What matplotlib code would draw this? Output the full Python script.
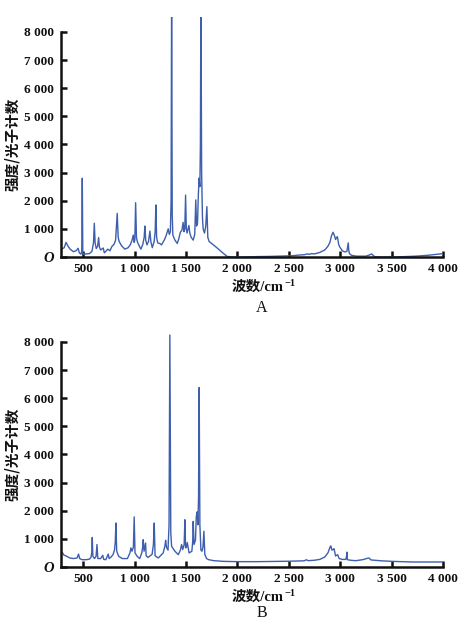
import matplotlib
matplotlib.use("Agg")
import matplotlib.pyplot as plt
import numpy as np

# ---------------- data ----------------
wn_a = [300, 315, 333, 350, 372, 405, 430, 451, 462, 478, 486, 491, 496, 505, 530, 560, 585,
        600, 608, 616, 627, 640, 650, 658, 670, 695, 705, 720, 740, 760, 780, 800, 815, 831,
        840, 850, 873, 905, 937, 960, 975, 987, 995, 1002, 1010, 1018, 1026, 1040, 1061, 1080,
        1093, 1100, 1108, 1120, 1135, 1149, 1158, 1172, 1190, 1200, 1207, 1214, 1225, 1245,
        1262, 1280, 1295, 1310, 1327, 1338, 1348, 1355, 1360, 1366, 1372, 1392, 1415, 1430,
        1445, 1460, 1472, 1480, 1488, 1496, 1503, 1510, 1520, 1528, 1537, 1550, 1570, 1585,
        1595, 1603, 1612, 1620, 1627, 1635, 1640, 1645, 1652, 1660, 1667, 1680, 1692, 1703,
        1712, 1725, 1760, 1800, 1850, 1900, 1950, 2000, 2050, 2100, 2150, 2200, 2300, 2400,
        2500, 2550, 2600, 2650, 2680, 2700, 2720, 2750, 2800, 2850, 2880, 2900, 2915, 2930,
        2945, 2955, 2965, 2973, 2985, 2995, 3020, 3044, 3065, 3072, 3078, 3083, 3090, 3110,
        3158, 3200, 3250, 3290, 3305, 3320, 3335, 3400, 3510, 3600, 3736, 3850, 3950, 4000]
int_a = [300, 330, 520, 400, 280, 190, 220, 310, 150, 100, 200, 2800, 150, 90, 110, 120, 200,
         500, 1200, 500, 300, 380, 690, 350, 250, 320, 150, 200, 280, 220, 380, 450, 600, 1550,
         700, 550, 400, 280, 330, 450, 600, 780, 520, 600, 1930, 700, 550, 430, 280, 450,
         700, 1100, 600, 430, 550, 920, 550, 330, 550, 900, 1850, 700, 500, 480,
         430, 550, 650, 800, 1000, 800, 900, 2000, 9500, 1500, 780, 600, 480, 650,
         880, 950, 1230, 900, 1000, 2200, 1000, 850, 1000, 1120, 850, 700, 600, 800,
         2030, 1100, 1200, 2200, 2800, 2500, 4000, 9500, 3000, 1400, 1000, 850, 1100, 1790,
         700, 550, 450, 330, 170, 20, 0, 0, 0, 5, 10, 15, 20, 30,
         40, 50, 70, 80, 110, 95, 120, 110, 160, 250, 380, 520, 750, 880,
         750, 620, 700, 720, 450, 360, 220, 180, 200, 350, 500, 250, 120, 60,
         30, 30, 30, 80, 110, 60, 10, 0, 0, 10, 30, 60, 100, 120]

wn_b = [300, 310, 339, 370, 405, 440, 455, 465, 490, 530, 560, 575, 583, 588, 594, 610, 625,
        634, 642, 670, 690, 700, 720, 744, 752, 770, 790, 805, 812, 818, 826, 845, 880, 930,
        955, 964, 975, 988, 996, 1004, 1025, 1049, 1070, 1078, 1084, 1092, 1107, 1112, 1130,
        1170, 1183, 1191, 1199, 1230, 1278, 1295, 1302, 1310, 1325, 1335, 1343, 1352, 1360,
        1392, 1425, 1445, 1457, 1468, 1482, 1489, 1496, 1505, 1512, 1520, 1530, 1557, 1565,
        1570, 1578, 1592, 1600, 1609, 1616, 1622, 1628, 1635, 1645, 1655, 1665, 1674, 1683,
        1700, 1721, 1770, 1867, 1997, 2100, 2200, 2320, 2400, 2500, 2600, 2650, 2672, 2685,
        2750, 2801, 2850, 2882, 2900, 2908, 2920, 2930, 2940, 2955, 2975, 2990, 3020, 3055,
        3062, 3066, 3070, 3100, 3150, 3220, 3265, 3280, 3300, 3340, 3400, 3510, 3700, 4000]
int_b = [500, 430, 380, 320, 300, 320, 460, 300, 260, 260, 280, 340, 500, 1050, 380, 300, 380,
         800, 300, 300, 415, 270, 260, 460, 300, 350, 440, 615, 900, 1565, 560, 380, 300, 300,
         500, 680, 560, 700, 1780, 500, 380, 300, 500, 700, 970, 560, 850, 400, 340,
         450, 800, 1565, 400, 320, 500, 750, 950, 700, 600, 1500, 8245, 1200, 735,
         560, 440, 600, 800, 620, 800, 1680, 680, 720, 870, 700, 500, 560, 900,
         1620, 800, 950, 1800, 1960, 1500, 2500, 6380, 1500, 600, 560, 700, 1270, 450,
         300, 260, 225, 200, 190, 190, 190, 195, 200, 205, 215, 220, 260, 225,
         240, 270, 355, 510, 700, 750, 600, 620, 650, 390, 440, 300, 270, 270,
         400, 530, 260, 240, 225, 260, 310, 320, 250, 237, 220, 200, 178, 178]

xticks = [500, 1000, 1500, 2000, 2500, 3000, 3500, 4000]
xtick_labels = ["500", "1 000", "1 500", "2 000", "2 500", "3 000", "3 500", "4 000"]
yticks = [0, 1000, 2000, 3000, 4000, 5000, 6000, 7000, 8000]
ytick_labels = ["O", "1 000", "2 000", "3 000", "4 000", "5 000", "6 000", "7 000", "8 000"]
panel_labels = ["A", "B"]
ylabel = "强度/光子计数"
xlabel = "波数/cm"

# ---------------- style ----------------
line_color = "#3d5fae"
serif = ["Liberation Serif", "DejaVu Serif"]
cjk = ["Noto Sans CJK SC", "DejaVu Sans"]
mixed = ["Liberation Serif", "Noto Sans CJK SC", "DejaVu Serif"]

fig = plt.figure(figsize=(4.70, 6.24), dpi=100)
W, H = 470, 624
left_px, right_px = 61, 443
panels = [(17, 257), (327, 567)]
label_y_px = [(287, 308), (597, 613)]
xmin, xmax = 284, 4000
ymin, ymax = 0, 8530

for (top_px, bot_px), (xl_px, pl_px), wn, inten, plab in zip(
        panels, label_y_px, [wn_a, wn_b], [int_a, int_b], panel_labels):
    ax = fig.add_axes([left_px / W, 1 - bot_px / H, (right_px - left_px) / W, (bot_px - top_px) / H])
    ax.plot(wn, inten, color=line_color, lw=1.0)
    ax.set_xlim(xmin, xmax)
    ax.set_ylim(ymin, ymax)
    for s in ["top", "right"]:
        ax.spines[s].set_visible(False)
    for s in ["left", "bottom"]:
        ax.spines[s].set_linewidth(1.8)
        ax.spines[s].set_color("#111111")
    ax.spines["left"].set_bounds(0, 8000)
    ax.set_xticks(xticks)
    ax.set_xticklabels(xtick_labels)
    ax.set_yticks(yticks)
    ax.set_yticklabels(ytick_labels)
    ax.tick_params(direction="in", length=4, width=1.8, color="#111111")
    ax.tick_params(axis="y", pad=5)
    ax.tick_params(axis="x", pad=4)
    for lab in ax.get_xticklabels() + ax.get_yticklabels():
        lab.set_family(serif)
        lab.set_fontweight("bold")
        lab.set_fontsize(9.5)
        lab.set_color("#111111")
    ax.get_yticklabels()[0].set_style("italic")
    ax.get_yticklabels()[0].set_fontsize(10.5)

    # y label (rotated), centred on the 0-8000 part of the axis
    yc_px = bot_px - (bot_px - top_px) * 4000 / ymax
    fig.text(12 / W, 1 - yc_px / H, ylabel, rotation=90, ha="center", va="center",
             family=cjk, fontweight="bold", fontsize=10.5, color="#111111")

    t = fig.text(258 / W, 1 - xl_px / H, xlabel, ha="center", va="center",
                 family=mixed, fontweight="bold", fontsize=10.5, color="#111111")
    ax.annotate("\u22121", xy=(1.0, 0.78), xycoords=t, ha="left", va="center",
                family=serif, fontweight="bold", fontsize=7.5, color="#111111")
    fig.text(262 / W, 1 - pl_px / H, plab, ha="center", va="center",
             family=serif, fontsize=11.5, color="#111111")

fig.savefig("out.png", dpi=100)
